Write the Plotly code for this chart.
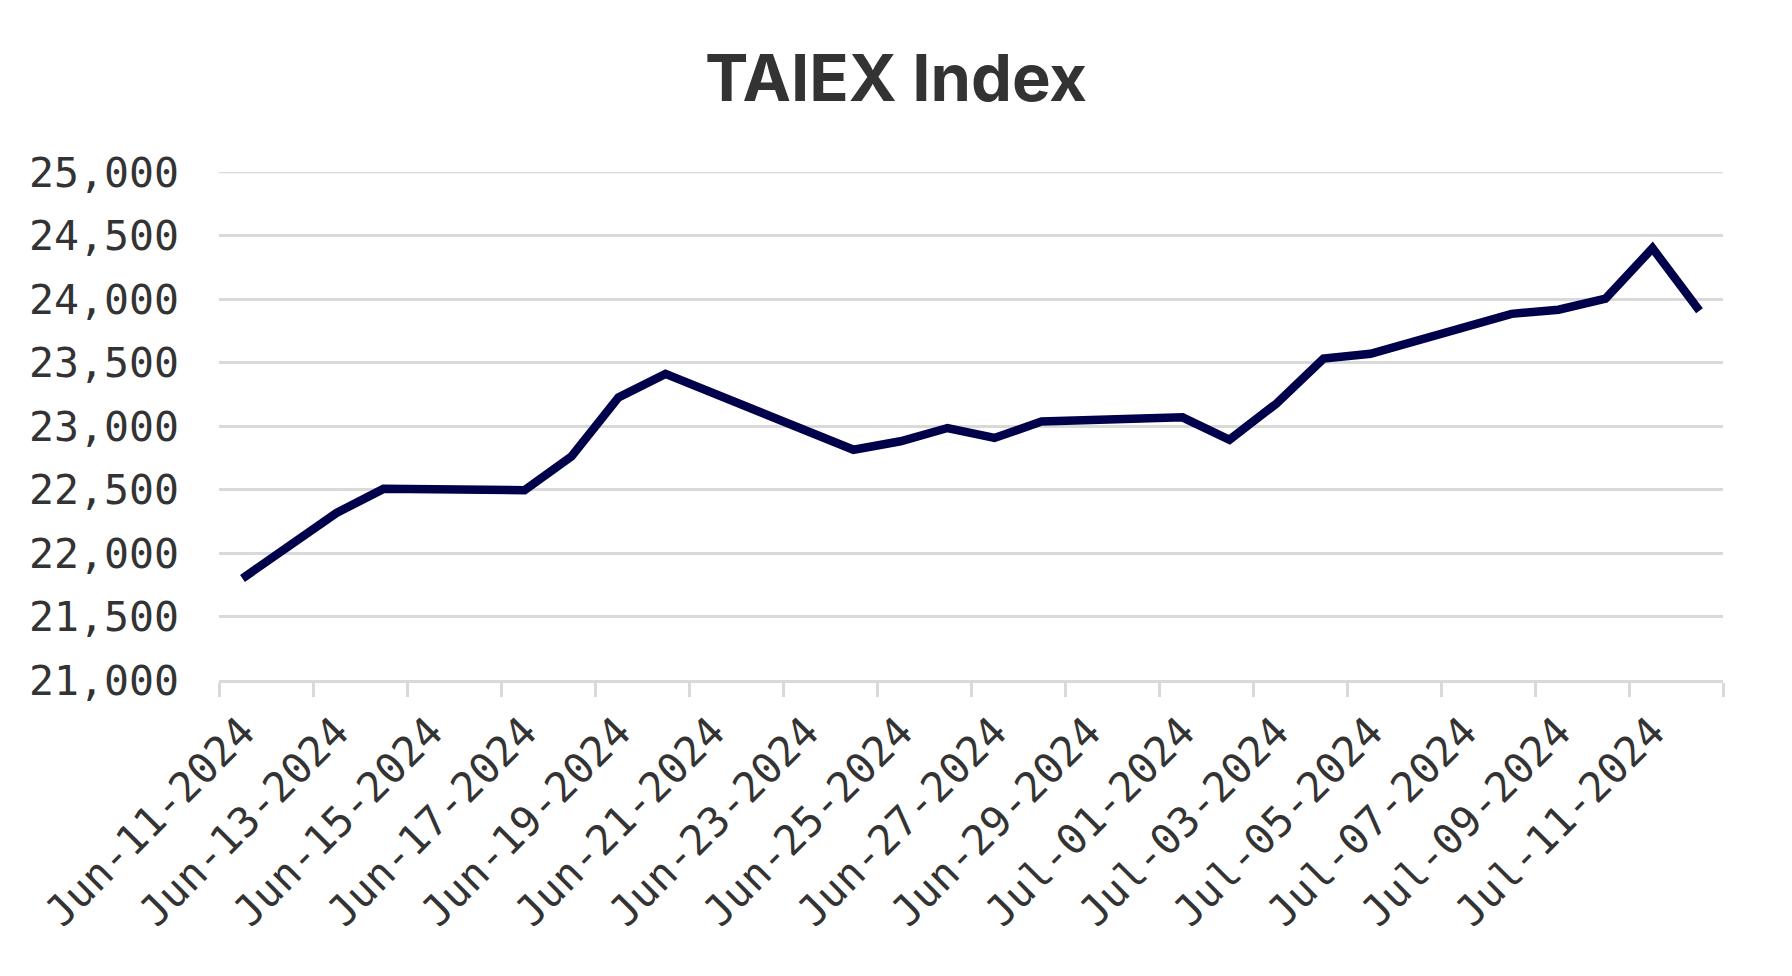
import plotly.graph_objects as go

dates = [
    "2024-06-11", "2024-06-12", "2024-06-13", "2024-06-14", "2024-06-17",
    "2024-06-18", "2024-06-19", "2024-06-20", "2024-06-24", "2024-06-25",
    "2024-06-26", "2024-06-27", "2024-06-28", "2024-07-01", "2024-07-02",
    "2024-07-03", "2024-07-04", "2024-07-05", "2024-07-08", "2024-07-09",
    "2024-07-10", "2024-07-11", "2024-07-12",
]
values = [
    21800, 22055, 22315, 22505, 22495,
    22760, 23225, 23410, 22813, 22880,
    22984, 22906, 23036, 23068, 22892,
    23177, 23531, 23569, 23883, 23916,
    24002, 24400, 23908,
]
title_text = "TAIEX Index"
x_range = ["2024-06-10 12:00", "2024-07-12 12:00"]
y_range = [21000, 25000]

DAY_MS = 86400000
mono = "DejaVu Sans Mono, Liberation Mono, monospace"
grid_col = "#d9d9d9"
text_col = "#333333"
tick_size = 41.5

fig = go.Figure()
fig.add_trace(go.Scatter(
    x=dates, y=values, mode="lines",
    line=dict(color="#00004b", width=8.5),
    hoverinfo="x+y",
))

fig.update_layout(
    width=1776, height=960,
    paper_bgcolor="white", plot_bgcolor="white",
    margin=dict(l=211, r=61, t=164, b=288, autoexpand=False),
    showlegend=False,
    title=dict(
        text=f"<b>{title_text}</b>",
        x=0.5, xanchor="center", xref="container",
        y=1 - 70 / 960, yanchor="middle", yref="container",
        font=dict(family="Inter, Roboto, sans-serif", size=65, color=text_col),
    ),
)

# top gridline at the upper edge of the value range (plotly hides edge grid)
fig.add_shape(type="line", xref="paper", x0=0, x1=1, yref="y",
              y0=y_range[1], y1=y_range[1],
              line=dict(color=grid_col, width=2.5), layer="below")

fig.update_xaxes(
    type="date",
    range=x_range,
    tick0="2024-06-11", dtick=2 * DAY_MS,
    tickformat="%b-%d-%Y",
    tickangle=-45,
    ticks="", showgrid=False,
    ticklabelstandoff=8,
    tickfont=dict(family=mono, size=tick_size, color=text_col),
    showline=True, linecolor=grid_col, linewidth=2.5,
    minor=dict(ticks="outside", tick0="2024-06-10 12:00", dtick=2 * DAY_MS,
               ticklen=14, tickwidth=2.5, tickcolor=grid_col, showgrid=False),
    zeroline=False,
)
fig.update_yaxes(
    range=y_range, dtick=500, tick0=21000,
    tickformat=",d",
    showgrid=True, gridcolor=grid_col, gridwidth=2.5,
    showline=False, zeroline=False, ticks="",
    ticklabelstandoff=39,
    tickfont=dict(family=mono, size=tick_size, color=text_col),
)

fig.write_html("out.html")
